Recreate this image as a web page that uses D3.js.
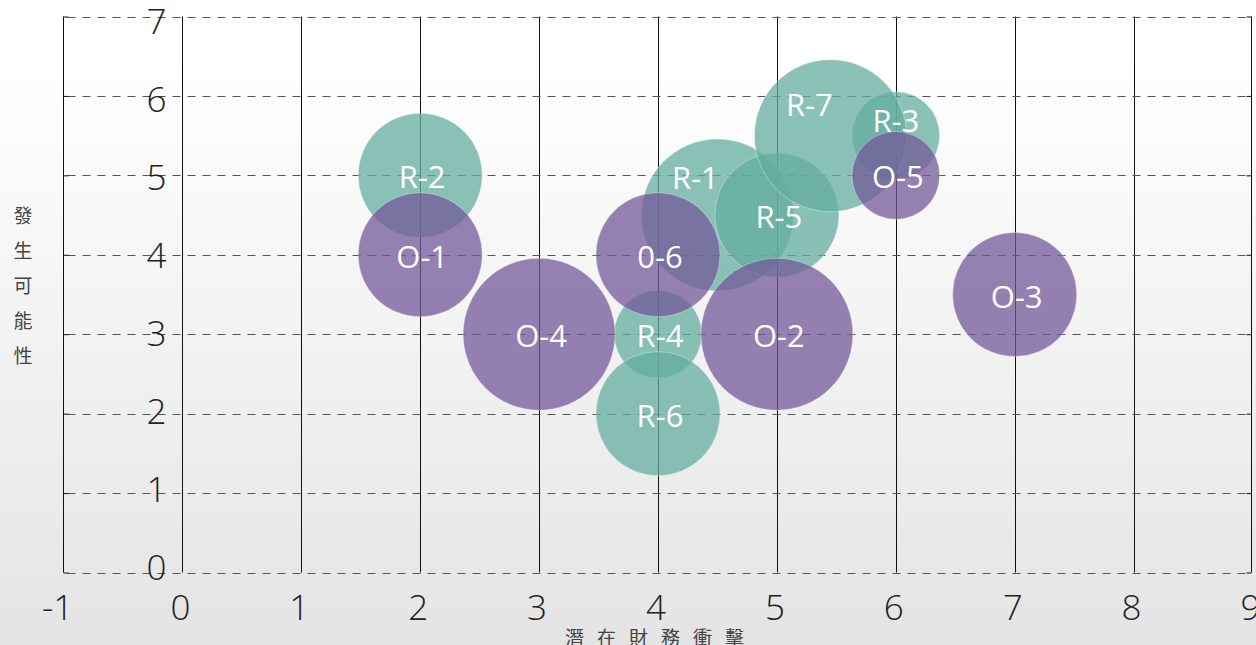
<!DOCTYPE html>
<html>
<head>
<meta charset="utf-8">
<script src="https://cdn.jsdelivr.net/npm/d3@7"></script>
<style>
  html, body { margin: 0; padding: 0; }
  body { width: 1256px; height: 645px; overflow: hidden; }
  svg { display: block; }
</style>
</head>
<body>
<svg id="chart" width="1256" height="645"></svg>
<script>
// Risk (R) and opportunity (O) items: impact on x, likelihood on y, size by weight
const itemNames  = ["R-1", "R-2", "R-3", "R-4", "R-5", "R-6", "R-7", "O-1", "O-2", "O-3", "O-4", "O-5", "0-6"];
const itemGroups = ["R", "R", "R", "R", "R", "R", "R", "O", "O", "O", "O", "O", "O"];
const impact     = [4.5, 2, 6, 4, 5, 4, 5.45, 2, 5, 7, 3, 6, 4];
const likelihood = [4.5, 5, 5.5, 3, 4.5, 2, 5.5, 4, 3, 3.5, 3, 5, 4];
const weight     = [3, 2, 1, 1, 2, 2, 3, 2, 3, 2, 3, 1, 2];

const xTicks = [-1, 0, 1, 2, 3, 4, 5, 6, 7, 8, 9];
const yTicks = [0, 1, 2, 3, 4, 5, 6, 7];
const xTitle = "潛在財務衝擊";
const yTitle = "發生可能性";

const items = itemNames.map((name, i) => ({
  name, group: itemGroups[i], x: impact[i], y: likelihood[i], w: weight[i]
}));

const W = 1256, H = 645;
const svg = d3.select("#chart");

// soft vertical background wash
const defs = svg.append("defs");
const grad = defs.append("linearGradient").attr("id", "bg").attr("x1", 0).attr("y1", 0).attr("x2", 0).attr("y2", 1);
grad.append("stop").attr("offset", "0%").attr("stop-color", "#ffffff");
grad.append("stop").attr("offset", "10%").attr("stop-color", "#ffffff");
grad.append("stop").attr("offset", "100%").attr("stop-color", "#e4e4e4");
svg.append("rect").attr("width", W).attr("height", H).attr("fill", "url(#bg)");

const x = d3.scaleLinear().domain([-1, 9]).range([63.5, 1252.5]);
const y = d3.scaleLinear().domain([0, 7]).range([572.5, 16.5]);
const yLabel = d3.scaleLinear().domain([0, 7]).range([566, 20.5]);
const r = d3.scaleSqrt().domain([0, 3]).range([0, 76]);
const color = { R: "#62ad9f", O: "#735899" };

// vertical grid lines (solid)
svg.append("g").selectAll("line")
  .data(xTicks.filter(t => t > -1 && t < 9))
  .join("line")
  .attr("x1", d => Math.round(x(d)) + 0.5).attr("x2", d => Math.round(x(d)) + 0.5)
  .attr("y1", y(7)).attr("y2", y(0))
  .attr("stroke", "#111").attr("stroke-width", 1);

// horizontal grid lines (dashed)
svg.append("g").selectAll("line")
  .data(yTicks)
  .join("line")
  .attr("x1", x(-1) + 4).attr("x2", x(9) - 4)
  .attr("y1", d => Math.round(y(d)) + 0.5).attr("y2", d => Math.round(y(d)) + 0.5)
  .attr("stroke", "#555").attr("stroke-width", 1.2)
  .attr("stroke-dasharray", "8,7");

// frame lines at both ends of the x range, with tick stubs
const yAxisL = d3.axisRight(y).tickValues(yTicks).tickSize(5).tickFormat("");
const yAxisR = d3.axisLeft(y).tickValues(yTicks).tickSize(5).tickFormat("");
const gl = svg.append("g").attr("transform", `translate(${x(-1)},0)`).call(yAxisL);
const gr = svg.append("g").attr("transform", `translate(${x(9) - 1},0)`).call(yAxisR);
[gl, gr].forEach(g => {
  g.select(".domain").attr("stroke", "#111").attr("d", `M0,${y(7)}V${y(0)}`);
  g.selectAll(".tick line").attr("stroke", "#111");
});

// bubbles: risks first, opportunities on top
const order = items.filter(d => d.group === "R").concat(items.filter(d => d.group === "O"));
svg.append("g").selectAll("circle")
  .data(order)
  .join("circle")
  .attr("cx", d => x(d.x)).attr("cy", d => y(d.y))
  .attr("r", d => r(d.w))
  .attr("fill", d => color[d.group])
  .attr("fill-opacity", 0.74)
  .attr("stroke", "rgba(255,255,255,0.35)")
  .attr("stroke-width", 1);

// label nudges for crowded bubbles
const nudge = { "R-1": [-22, -38], "R-7": [-21, -32], "R-3": [0, -16] };
svg.append("g").selectAll("text")
  .data(order)
  .join("text")
  .attr("x", d => x(d.x) + (nudge[d.name] ? nudge[d.name][0] : 2))
  .attr("y", d => y(d.y) + (nudge[d.name] ? nudge[d.name][1] : 1))
  .attr("text-anchor", "middle")
  .attr("dominant-baseline", "central")
  .attr("fill", "#ffffff")
  .attr("font-family", "'Open Sans', 'Noto Sans', sans-serif")
  .attr("font-size", 31)
  .text(d => d.name);

// tick labels
svg.append("g").selectAll("text")
  .data(yTicks)
  .join("text")
  .attr("x", x(0) - 16)
  .attr("y", d => yLabel(d))
  .attr("text-anchor", "end")
  .attr("dominant-baseline", "central")
  .attr("fill", "#222")
  .attr("font-family", "'Open Sans', sans-serif")
  .attr("font-weight", 300)
  .attr("font-size", 35)
  .text(d => d);

svg.append("g").selectAll("text")
  .data(xTicks)
  .join("text")
  .attr("x", d => x(d) - (d < 0 ? 6 : 2))
  .attr("y", 606)
  .attr("text-anchor", "middle")
  .attr("dominant-baseline", "central")
  .attr("fill", "#222")
  .attr("font-family", "'Open Sans', sans-serif")
  .attr("font-weight", 300)
  .attr("font-size", 35)
  .text(d => d);

// axis titles
svg.append("text")
  .attr("x", 661).attr("y", 636)
  .attr("text-anchor", "middle")
  .attr("dominant-baseline", "central")
  .attr("fill", "#444")
  .attr("font-family", "'Noto Sans CJK TC', sans-serif")
  .attr("font-size", 19)
  .attr("letter-spacing", 13)
  .text(xTitle);

svg.append("g").selectAll("text")
  .data(Array.from(yTitle))
  .join("text")
  .attr("x", 23)
  .attr("y", (d, i) => 214 + i * 35)
  .attr("text-anchor", "middle")
  .attr("dominant-baseline", "central")
  .attr("fill", "#444")
  .attr("font-family", "'Noto Sans CJK TC', sans-serif")
  .attr("font-size", 19)
  .text(d => d);
</script>
</body>
</html>
